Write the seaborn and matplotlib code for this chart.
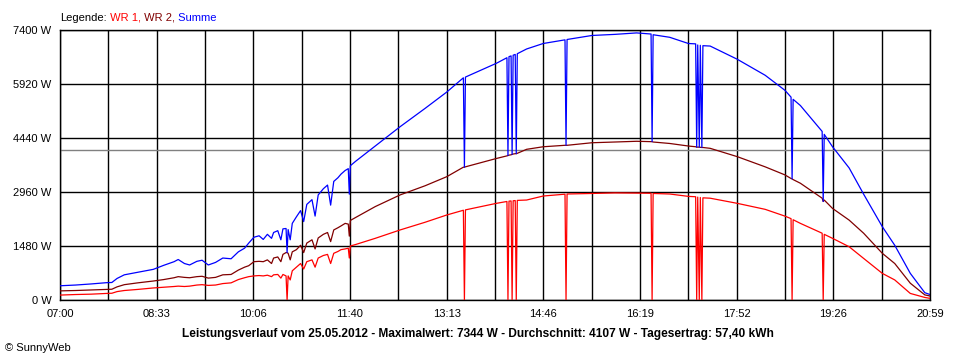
import numpy as np
import pandas as pd
import matplotlib
matplotlib.use("Agg")
import matplotlib.pyplot as plt
import seaborn as sns

# minutes after 07:00 and power in W for both inverters and the sum
minutes = [0, 15, 30, 45, 50, 55, 62, 75, 90, 100, 110, 114, 120, 125, 132, 137, 143, 150,
           157, 165, 172, 178, 182, 187, 192, 196, 200, 204, 206, 210, 213, 215, 218, 219,
           220, 222, 224, 228, 232, 235, 238, 243, 246, 249, 254, 258, 261, 264, 268, 271,
           275, 278, 279, 280, 285, 304, 328, 352, 373, 389, 390, 391, 421, 431, 432, 433,
           435, 436, 437, 439, 440, 441, 450, 466, 487, 488, 489, 513, 535, 556, 570, 571,
           572, 588, 606, 613, 614, 615, 616.5, 617.5, 619, 620, 627, 653, 680, 699, 705,
           706, 707, 714, 735, 736, 737, 745, 761, 775, 793, 805, 820, 834, 839]
wr1 = [135, 150, 160, 180, 185, 230, 260, 290, 330, 350, 370, 380, 370, 380, 410, 420, 400, 410,
       450, 470, 560, 610, 640, 660, 670, 660, 680, 640, 690, 700, 600, 700, 660, 0,
       660, 550, 800, 900, 1000, 850, 1050, 1100, 900, 1150, 1220, 1250, 1000, 1280, 1330, 1380,
       1400, 1420, 1150, 1480, 1520, 1690, 1920, 2130, 2330, 2460, 0, 2470, 2650, 2700, 0, 2710,
       2715, 0, 2720, 2725, 0, 2730, 2740, 2850, 2900, 0, 2905, 2920, 2935, 2930, 2925, 0,
       2920, 2905, 2840, 2830, 0, 2820, 0, 2810, 0, 2800, 2790, 2650, 2485, 2300, 2230,
       0, 2200, 2100, 1830, 0, 1800, 1690, 1460, 1140, 730, 550, 180, 70, 45]
wr2 = [250, 260, 275, 290, 295, 360, 420, 470, 520, 560, 610, 640, 620, 610, 640, 650, 600, 620,
       690, 700, 820, 900, 940, 1050, 1060, 1050, 1100, 1000, 1150, 1180, 1050, 1250, 1300, 1300,
       1280, 1100, 1320, 1380, 1500, 1300, 1560, 1650, 1400, 1700, 1800, 1850, 1600, 1920, 1980, 2030,
       2100, 2080, 1750, 2180, 2260, 2560, 2880, 3130, 3380, 3640, 3640, 3650, 3880, 3950, 3960, 3970,
       3980, 3990, 4000, 4010, 4010, 4020, 4130, 4200, 4240, 4240, 4240, 4310, 4330, 4350, 4340, 4340,
       4330, 4290, 4220, 4200, 4190, 4190, 4190, 4185, 4180, 4180, 4157, 3930, 3650, 3430, 3330,
       3320, 3300, 3200, 2790, 2700, 2740, 2510, 2190, 1830, 1280, 1000, 460, 140, 110]
summe = [390, 410, 440, 475, 480, 590, 690, 760, 840, 950, 1050, 1110, 1000, 960, 1060, 1090, 960, 1030,
         1150, 1130, 1320, 1420, 1560, 1720, 1760, 1660, 1800, 1690, 1850, 1900, 1650, 1950, 1960, 1300,
         1930, 1650, 2100, 2280, 2450, 2150, 2620, 2750, 2300, 2880, 3050, 3150, 2600, 3250, 3350, 3450,
         3550, 3600, 2900, 3680, 3800, 4220, 4750, 5250, 5700, 6090, 3640, 6110, 6490, 6640, 3960, 6670,
         6690, 3990, 6710, 6730, 4010, 6750, 6880, 7030, 7130, 4240, 7140, 7250, 7280, 7320, 7290, 4340,
         7270, 7200, 7030, 7020, 4190, 6990, 4190, 6980, 4180, 6970, 6960, 6600, 6160, 5750, 5560,
         3320, 5500, 5330, 4620, 2700, 4540, 4200, 3620, 2900, 2010, 1500, 730, 200, 150]

series_names = ["WR 1", "WR 2", "Summe"]
series_colors = ["#FF0000", "#800000", "#0000FF"]
y_ticks = [0, 1480, 2960, 4440, 5920, 7400]
x_labels = ["07:00", "08:33", "10:06", "11:40", "13:13", "14:46", "16:19", "17:52", "19:26", "20:59"]
day_minutes = 839
average_w = 4107
title = ("Leistungsverlauf vom 25.05.2012 - Maximalwert: 7344 W - "
         "Durchschnitt: 4107 W - Tagesertrag: 57,40 kWh")

df = pd.concat([
    pd.DataFrame({"t": minutes, "W": vals, "serie": name})
    for name, vals in zip(series_names, [wr1, wr2, summe])
])

sns.set_style("white")
plt.rcParams["font.family"] = ["Liberation Sans", "DejaVu Sans"]

fig = plt.figure(figsize=(9.6, 3.6), dpi=100)
ax = fig.add_axes([60 / 960, 60 / 360, 870 / 960, 270 / 360])

sns.lineplot(data=df, x="t", y="W", hue="serie", palette=dict(zip(series_names, series_colors)),
             estimator=None, legend=False, linewidth=0.9, ax=ax, zorder=3)
ax.axhline(average_w, color="#808080", linewidth=1.0, zorder=2)

ax.set_xlim(0, day_minutes)
ax.set_ylim(0, 7400)
major = np.linspace(0, day_minutes, len(x_labels))
ax.set_xticks(major)
ax.set_xticklabels(x_labels)
ax.set_xticks((major[:-1] + major[1:]) / 2, minor=True)
ax.set_yticks(y_ticks)
ax.set_yticklabels([f"{v} W" for v in y_ticks])
ax.set_xlabel("")
ax.set_ylabel("")
ax.set_axisbelow(True)
ax.grid(True, which="both", color="black", linewidth=1.0)
ax.tick_params(axis="both", which="both", direction="out", length=3.6, width=1.0,
               color="black", labelsize=8, labelcolor="black")
ax.tick_params(axis="x", pad=3)
ax.tick_params(axis="y", pad=2.5)
for s in ax.spines.values():
    s.set_color("black")
    s.set_linewidth(1.0)

# legend line on top, coloured word by word
t0 = fig.text(60 / 960, 1 - 21 / 360, "Legende:", fontsize=8, color="black", va="baseline")
prev = t0
for name, col in zip(series_names, series_colors):
    label = f" {name}," if name != "Summe" else f" {name}"
    prev = ax.annotate(label, xy=(1, 0), xycoords=prev, va="bottom", ha="left",
                       fontsize=8, color=col, annotation_clip=False)

fig.text(478 / 960, 1 - 334 / 360, title, ha="center", va="center",
         fontsize=8.6, fontweight="bold", color="black")
fig.text(5 / 960, 1 - 348 / 360, "© SunnyWeb", ha="left", va="center", fontsize=8, color="black")

fig.savefig("out.png", dpi=100, facecolor="white")
